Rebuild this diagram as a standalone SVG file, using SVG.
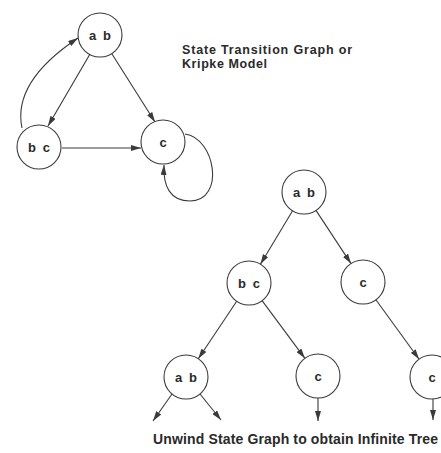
<svg xmlns="http://www.w3.org/2000/svg" width="441" height="453" viewBox="0 0 441 453">
<defs>
<marker id="ah" markerUnits="userSpaceOnUse" markerWidth="10" markerHeight="6" refX="10" refY="3" orient="auto">
<path d="M0,0 L10,3 L0,6 z" fill="#3a3a3a"/>
</marker>
<style>
.n{fill:none;stroke:#3a3a3a;stroke-width:1.1}
.t{font-family:"Liberation Sans",Arial,sans-serif;font-weight:bold;font-size:13px;fill:#2a2a2a;text-anchor:middle;word-spacing:3px}
.e{fill:none;stroke:#3a3a3a;stroke-width:1.1;marker-end:url(#ah)}
.lb{font-family:"Liberation Sans",Arial,sans-serif;font-weight:bold;fill:#2a2a2a}
</style>
</defs>
<rect width="441" height="453" fill="#ffffff"/>
<g id="connectors">
<path class="e" d="M90,54 L48,126"/>
<path class="e" d="M22,128 C14,90 45,60 78,38"/>
<path class="e" d="M112,54 L155,122"/>
<path class="e" d="M62,148 L141,148"/>
<path class="e" d="M185,134 C215,138 226,200 190,201 C170,201 163,186 164,165"/>
<path class="e" d="M292.6,210.8 L260.4,264.2"/>
<path class="e" d="M316,210.4 L351,263.6"/>
<path class="e" d="M236.7,301.3 L198.3,358.7"/>
<path class="e" d="M262.1,300.7 L304.9,358.3"/>
<path class="e" d="M375.9,299.8 L419.1,359.2"/>
<path class="e" d="M172,394 L153,421"/>
<path class="e" d="M200,394 L221,420"/>
<path class="e" d="M318,398 L318,421"/>
<path class="e" d="M433,399 L433,420"/>
</g>
<g id="g_ab"><circle class="n" cx="100" cy="35" r="22"/><text class="t" x="100" y="40">a b</text></g>
<g id="g_bc"><circle class="n" cx="39" cy="147" r="22"/><text class="t" x="39" y="152">b c</text></g>
<g id="g_c"><circle class="n" cx="163" cy="142" r="22"/><text class="t" x="163" y="147">c</text></g>
<g id="t_root"><circle class="n" cx="304" cy="192" r="22"/><text class="t" x="304" y="197">a b</text></g>
<g id="t_bc"><circle class="n" cx="249" cy="283" r="22"/><text class="t" x="249" y="288">b c</text></g>
<g id="t_c1"><circle class="n" cx="363" cy="282" r="22"/><text class="t" x="363" y="287">c</text></g>
<g id="t_ab2"><circle class="n" cx="186" cy="377" r="22"/><text class="t" x="186" y="382">a b</text></g>
<g id="t_c2"><circle class="n" cx="318" cy="376" r="22"/><text class="t" x="318" y="381">c</text></g>
<g id="t_c3"><circle class="n" cx="432" cy="377" r="22"/><text class="t" x="432" y="382">c</text></g>
<text class="lb" x="182" y="54" font-size="12.5" textLength="170">State Transition Graph or</text>
<text class="lb" x="182" y="68" font-size="12.5" textLength="85">Kripke Model</text>
<text class="lb" x="153" y="444" font-size="14" textLength="285">Unwind State Graph to obtain Infinite Tree</text>
</svg>
